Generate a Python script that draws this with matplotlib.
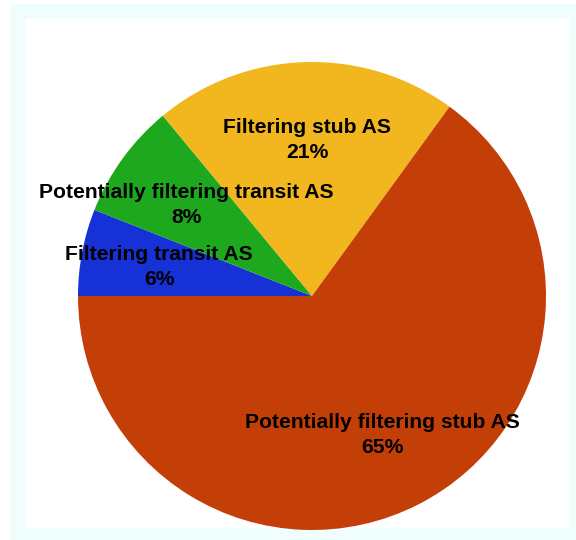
import matplotlib.pyplot as plt
import numpy as np
from matplotlib.patches import Rectangle

labels = ['Filtering transit AS', 'Potentially filtering transit AS',
          'Filtering stub AS', 'Potentially filtering stub AS']
shares = [6, 8, 21, 65]
colors = ['#1631d6', '#1ea81e', '#f2b61e', '#c43e08']

fig = plt.figure(figsize=(5.76, 5.4), dpi=100)
fig.patch.set_facecolor('white')

# light frame with a white panel inside
fig.patches.append(Rectangle((10 / 576, 0), 566 / 576, 536 / 540,
                             transform=fig.transFigure, facecolor='#effdfd',
                             edgecolor='none', zorder=-2))
fig.patches.append(Rectangle((25 / 576, 12 / 540), 544 / 576, 509 / 540,
                             transform=fig.transFigure, facecolor='white',
                             edgecolor='none', zorder=-1))

ax = fig.add_axes([78 / 576, 10 / 540, 468 / 576, 468 / 540])
ax.set_zorder(1)
ax.set_facecolor('none')
wedges, _ = ax.pie(shares, colors=colors, startangle=180, counterclock=False,
                   radius=1.0)
ax.set_xlim(-1, 1)
ax.set_ylim(-1, 1)
ax.set_aspect('equal')
ax.axis('off')

for w, lab, v in zip(wedges, labels, shares):
    mid = np.deg2rad((w.theta1 + w.theta2) / 2)
    r = 0.665
    ax.text(r * np.cos(mid), r * np.sin(mid), f'{lab}\n{v}%',
            ha='center', va='center', fontsize=15.2, fontweight='bold',
            family='Liberation Sans', linespacing=1.4, color='black')

fig.savefig('out.png', dpi=100)
